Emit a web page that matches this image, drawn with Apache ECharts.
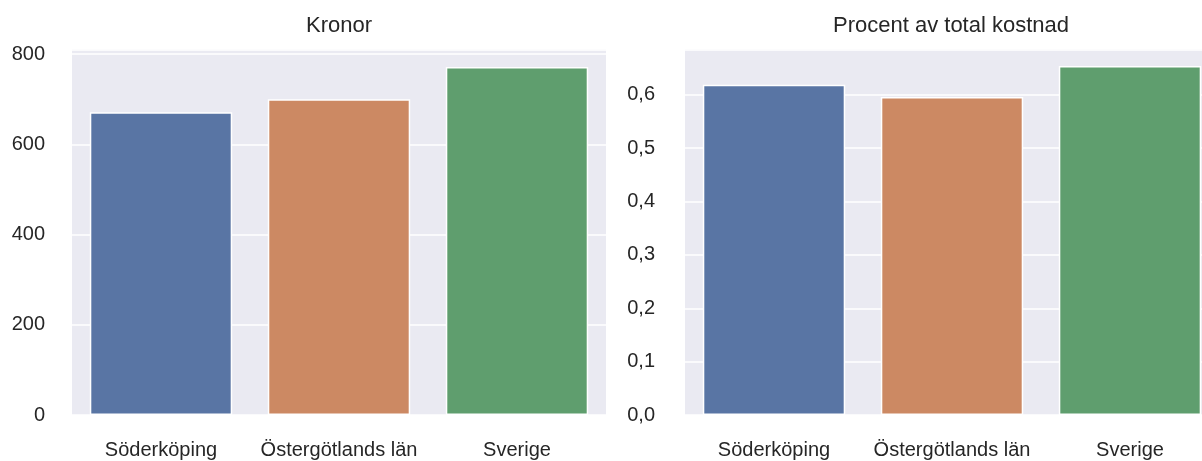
<!DOCTYPE html>
<html><head><meta charset="utf-8">
<script src="https://cdn.jsdelivr.net/npm/echarts@6/dist/echarts.min.js"></script>
<style>html,body{margin:0;padding:0;background:#fff}#c{width:1202px;height:461px}</style>
</head><body><div id="c"></div>
<script>
const categories = ['Söderköping', 'Östergötlands län', 'Sverige'];
const kronor = [671, 700, 771];
const procent = [0.619, 0.596, 0.654];
const colors = ['#5975a4', '#cc8963', '#5f9e6e'];
const titles = ['Kronor', 'Procent av total kostnad'];

const font = 'Liberation Sans, Arial, sans-serif';
const textColor = '#262626';
const chart = echarts.init(document.getElementById('c'));

function yAxis(idx, max, interval, fmt, margin) {
  return {
    type: 'value', gridIndex: idx, min: 0, max: max, interval: interval,
    axisLine: {show: false}, axisTick: {show: false},
    axisLabel: {showMaxLabel: false, color: textColor, fontSize: 20, fontFamily: font, margin: margin, formatter: fmt},
    splitLine: {show: true, lineStyle: {color: '#ffffff', width: 1.6}}
  };
}
function xAxis(idx) {
  return {
    type: 'category', gridIndex: idx, data: categories,
    axisLine: {show: false}, axisTick: {show: false},
    axisLabel: {color: textColor, fontSize: 20, fontFamily: font, margin: 25, interval: 0}
  };
}
function series(idx, vals) {
  return {
    type: 'bar', xAxisIndex: idx, yAxisIndex: idx, barCategoryGap: '20%',
    data: vals.map((v, i) => ({value: v, itemStyle: {color: colors[i]}})),
    itemStyle: {borderColor: '#ffffff', borderWidth: 1.5}
  };
}

chart.setOption({
  animation: false,
  backgroundColor: '#ffffff',
  title: [
    {text: titles[0], left: 334, top: 10, textAlign: 'center', textStyle: {fontSize: 22, fontWeight: 'normal', color: textColor, fontFamily: font}},
    {text: titles[1], left: 946, top: 10, textAlign: 'center', textStyle: {fontSize: 22, fontWeight: 'normal', color: textColor, fontFamily: font}}
  ],
  grid: [
    {left: 72, top: 49.5, width: 534, height: 365.5, show: true, backgroundColor: '#eaeaf2', borderWidth: 0, outerBoundsMode: 'none'},
    {left: 685, top: 49.5, width: 534, height: 365.5, show: true, backgroundColor: '#eaeaf2', borderWidth: 0, outerBoundsMode: 'none'}
  ],
  xAxis: [xAxis(0), xAxis(1)],
  yAxis: [
    yAxis(0, 810, 200, v => String(v), 27),
    yAxis(1, 0.685, 0.1, v => v.toFixed(1).replace('.', ','), 30)
  ],
  series: [series(0, kronor), series(1, procent)]
});
</script></body></html>
